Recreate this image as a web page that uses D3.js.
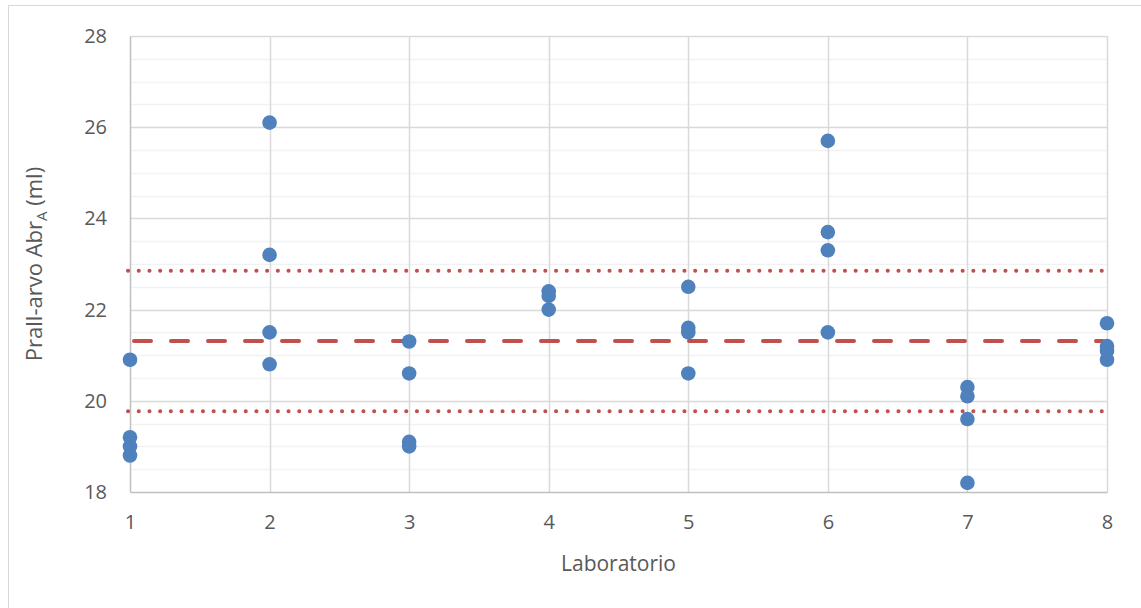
<!DOCTYPE html>
<html>
<head>
<meta charset="utf-8">
<script src="https://cdn.jsdelivr.net/npm/d3@7"></script>
<style>
	body { margin: 0; background: #fff; }
	svg text { font-family: "Open Sans", sans-serif; fill: #595959; }
</style>
</head>
<body>
<div id="chart"></div>
<script>
// data
const labs = [1, 2, 3, 4, 5, 6, 7, 8];
const results = [
	[20.9, 19.2, 19.0, 18.8],
	[26.1, 23.2, 21.5, 20.8],
	[21.3, 20.6, 19.1, 19.0],
	[22.4, 22.3, 22.0],
	[22.5, 21.6, 21.5, 20.6],
	[25.7, 23.7, 23.3, 21.5],
	[20.3, 20.1, 19.6, 18.2],
	[21.7, 21.2, 21.1, 20.9]
];
const meanValue = 21.31;
const limitValues = [22.85, 19.77];
const yTicks = [18, 20, 22, 24, 26, 28];

const width = 1141;
const height = 608;
const margin = {left: 130, right: 34, top: 36, bottom: 116};

const svg = d3.select("#chart")
	.append("svg")
	.attr("width", width)
	.attr("height", height);

// outer chart frame
svg.append("rect")
	.attr("x", 8.5).attr("y", 5.5)
	.attr("width", width + 10).attr("height", height + 10)
	.attr("fill", "none")
	.attr("stroke", "#d9d9d9");

const x = d3.scaleLinear()
	.domain([1, 8])
	.range([margin.left, width - margin.right]);

const y = d3.scaleLinear()
	.domain([18, 28])
	.range([height - margin.bottom, margin.top]);

// minor gridlines every 0.5
const minor = d3.range(18.5, 28, 0.5).filter(v => v % 2 !== 0);
svg.append("g")
	.selectAll("line")
	.data(minor)
	.enter()
	.append("line")
	.attr("x1", x(1)).attr("x2", x(8))
	.attr("y1", d => Math.round(y(d)) + 0.5)
	.attr("y2", d => Math.round(y(d)) + 0.5)
	.attr("stroke", "#f2f2f2")
	.attr("stroke-width", 1.5);

// major gridlines
svg.append("g")
	.selectAll("line")
	.data(yTicks.slice(1))
	.enter()
	.append("line")
	.attr("x1", x(1)).attr("x2", x(8))
	.attr("y1", d => Math.round(y(d)) + 0.5)
	.attr("y2", d => Math.round(y(d)) + 0.5)
	.attr("stroke", "#d9d9d9")
	.attr("stroke-width", 1.5);

svg.append("g")
	.selectAll("line")
	.data(labs.slice(1))
	.enter()
	.append("line")
	.attr("x1", d => Math.round(x(d)) + 0.5)
	.attr("x2", d => Math.round(x(d)) + 0.5)
	.attr("y1", y(28)).attr("y2", y(18))
	.attr("stroke", "#d9d9d9")
	.attr("stroke-width", 1.5);

// axes
const xAxis = d3.axisBottom(x).tickValues(labs).tickSize(0).tickPadding(23).tickFormat(d3.format("d"));
const yAxis = d3.axisLeft(y).tickValues(yTicks).tickSize(0).tickPadding(23).tickFormat(d3.format("d"));

const gx = svg.append("g")
	.attr("transform", `translate(0, ${height - margin.bottom})`)
	.call(xAxis);
gx.select(".domain").attr("stroke", "#bfbfbf").attr("stroke-width", 1.5);
gx.selectAll("text").style("font-size", "20px");

const gy = svg.append("g")
	.attr("transform", `translate(${margin.left}, 0)`)
	.call(yAxis);
gy.select(".domain").attr("stroke", "#bfbfbf").attr("stroke-width", 1.5);
gy.selectAll("text").style("font-size", "20px");

// reference lines
svg.append("line")
	.attr("x1", x(1) + 4).attr("x2", x(8) - 4)
	.attr("y1", y(meanValue)).attr("y2", y(meanValue))
	.attr("stroke", "#c0504d")
	.attr("stroke-width", 4)
	.attr("stroke-linecap", "round")
	.attr("stroke-dasharray", "17 20");

svg.append("g")
	.selectAll("line")
	.data(limitValues)
	.enter()
	.append("line")
	.attr("x1", x(1) - 2).attr("x2", x(8))
	.attr("y1", d => y(d)).attr("y2", d => y(d))
	.attr("stroke", "#c0504d")
	.attr("stroke-width", 4)
	.attr("stroke-linecap", "round")
	.attr("stroke-dasharray", "0.1 10.6");

// points
const points = [];
results.forEach((vals, i) => vals.forEach(v => points.push({lab: labs[i], value: v})));

svg.append("g")
	.selectAll("circle")
	.data(points)
	.enter()
	.append("circle")
	.attr("cx", d => x(d.lab))
	.attr("cy", d => y(d.value))
	.attr("r", 7.3)
	.attr("fill", "#4f81bd");

// axis titles
svg.append("text")
	.attr("x", (x(1) + x(8)) / 2)
	.attr("y", 571)
	.attr("text-anchor", "middle")
	.style("font-size", "21px")
	.text("Laboratorio");

const yTitle = svg.append("text")
	.attr("transform", `translate(42, ${(y(18) + y(28)) / 2}) rotate(-90)`)
	.attr("text-anchor", "middle")
	.style("font-size", "22px");
yTitle.append("tspan").text("Prall-arvo Abr");
yTitle.append("tspan").attr("dy", 5).style("font-size", "15px").text("A");
yTitle.append("tspan").attr("dy", -5).text(" (ml)");
</script>
</body>
</html>
